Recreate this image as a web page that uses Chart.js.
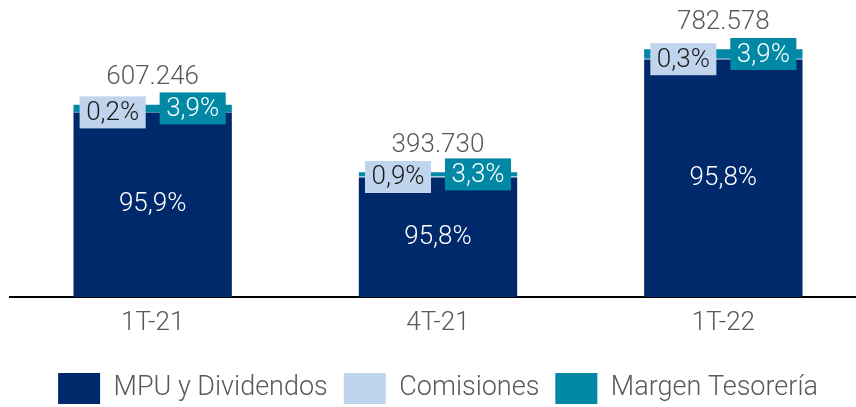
<!DOCTYPE html>
<html lang="es">
<head>
<meta charset="utf-8">
<title>Margen bruto</title>
<script src="https://cdn.jsdelivr.net/npm/chart.js@4.4.1/dist/chart.umd.min.js"></script>
<style>
  html, body { margin: 0; padding: 0; background: #fff; overflow: hidden; }
  #wrap { position: absolute; left: 0; top: 0; width: 866px; height: 414px; }
</style>
</head>
<body>
<div id="wrap"><canvas id="grafico"></canvas></div>
<script>
// datos
const categories = ["1T-21", "4T-21", "1T-22"];
const totals = [607246, 393730, 782578];
const mpuPct = [95.9, 95.8, 95.8];
const comisionesPct = [0.2, 0.9, 0.3];
const tesoreriaPct = [3.9, 3.3, 3.9];
const seriesNames = ["MPU y Dividendos", "Comisiones", "Margen Tesorería"];

// colores
const colMpu = "#00296b";
const colCom = "#c0d4ed";
const colTes = "#0088a4";
const gris = "#595959";
const fuente = "Roboto";

// valor de cada tramo = total * % / 100
const tramo = pcts => totals.map((t, i) => t * pcts[i] / 100);

function pct(v){
  return v.toFixed(1).replace(".", ",") + "%";
}
function miles(v){
  return String(Math.round(v)).replace(/\B(?=(\d{3})+(?!\d))/g, ".");
}

function caja(ctx, texto, cx, cy, fondo, color){
  const w = ctx.measureText(texto).width + 13;
  ctx.fillStyle = fondo;
  ctx.fillRect(cx - w / 2, cy - 16, w, 32);
  ctx.fillStyle = color;
  ctx.fillText(texto, cx, cy + 1);
}

// etiquetas de porcentaje y totales
const etiquetas = {
  id: "etiquetas",
  afterDatasetsDraw(chart){
    const ctx = chart.ctx;
    const mpu = chart.getDatasetMeta(0).data;
    const com = chart.getDatasetMeta(1).data;
    const tes = chart.getDatasetMeta(2).data;
    ctx.save();
    ctx.font = "300 26px " + fuente;
    ctx.textAlign = "center";
    ctx.textBaseline = "middle";
    categories.forEach((c, i) => {
      ctx.fillStyle = "#fff";
      ctx.fillText(pct(mpuPct[i]), mpu[i].x, (mpu[i].y + mpu[i].base) / 2);
      caja(ctx, pct(comisionesPct[i]), com[i].x - 40, (com[i].y + com[i].base) / 2, colCom, "#1a1a1a");
      caja(ctx, pct(tesoreriaPct[i]), tes[i].x + 40, (tes[i].y + tes[i].base) / 2, colTes, "#fff");
      ctx.fillStyle = gris;
      ctx.fillText(miles(totals[i]), tes[i].x, tes[i].y - 27);
    });
    ctx.restore();
  }
};

const chart = new Chart(document.getElementById("grafico"), {
  type: "bar",
  data: {
    labels: categories,
    datasets: [
      { label: seriesNames[0], data: tramo(mpuPct), backgroundColor: colMpu },
      { label: seriesNames[1], data: tramo(comisionesPct), backgroundColor: colCom },
      { label: seriesNames[2], data: tramo(tesoreriaPct), backgroundColor: colTes }
    ]
  },
  options: {
    responsive: true,
    maintainAspectRatio: false,
    animation: false,
    events: [],
    datasets: { bar: { barPercentage: 0.555, categoryPercentage: 1, borderWidth: 0 } },
    layout: { padding: { top: 12, left: 10, right: 0, bottom: 0 } },
    scales: {
      x: {
        stacked: true,
        grid: { display: false, drawTicks: false },
        border: { display: true, color: "#000", width: 2 },
        ticks: { color: gris, padding: 11, font: { family: fuente, size: 26, weight: 300 } },
        afterFit(scale){ scale.height = 60; }
      },
      y: { stacked: true, display: false, min: 0, max: 900000 }
    },
    plugins: {
      tooltip: { enabled: false },
      legend: {
        position: "bottom",
        labels: {
          boxWidth: 42,
          boxHeight: 31,
          padding: 16,
          color: gris,
          font: { family: fuente, size: 27, weight: 300 }
        }
      }
    }
  },
  plugins: [etiquetas]
});
</script>
</body>
</html>
